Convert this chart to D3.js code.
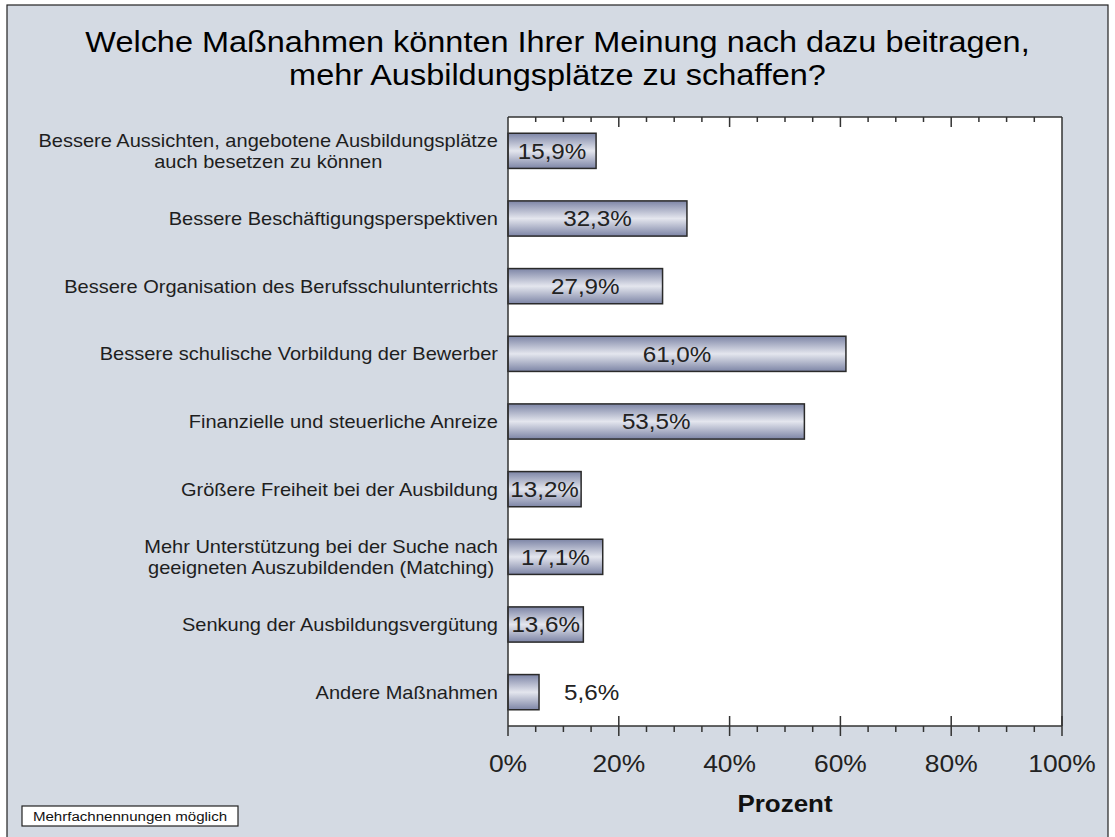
<!DOCTYPE html>
<html>
<head>
<meta charset="utf-8">
<script src="https://cdnjs.cloudflare.com/ajax/libs/d3/7.8.5/d3.min.js"></script>
<style>
  html, body { margin: 0; padding: 0; background: #ffffff; }
  svg { display: block; }
  text { font-family: "Liberation Sans", Arial, sans-serif; }
</style>
</head>
<body>
<svg id="chart" width="1115" height="837"></svg>
<script>
// ---- Data ----
const titleLines = [
  "Welche Maßnahmen könnten Ihrer Meinung nach dazu beitragen,",
  "mehr Ausbildungsplätze zu schaffen?"
];
const categories = [
  "Bessere Aussichten, angebotene Ausbildungsplätze\nauch besetzen zu können",
  "Bessere Beschäftigungsperspektiven",
  "Bessere Organisation des Berufsschulunterrichts",
  "Bessere schulische Vorbildung der Bewerber",
  "Finanzielle und steuerliche Anreize",
  "Größere Freiheit bei der Ausbildung",
  "Mehr Unterstützung bei der Suche nach\ngeeigneten Auszubildenden (Matching)",
  "Senkung der Ausbildungsvergütung",
  "Andere Maßnahmen"
];
const values = [15.9, 32.3, 27.9, 61.0, 53.5, 13.2, 17.1, 13.6, 5.6];
const majorTicks = [0, 20, 40, 60, 80, 100];
const minorTicks = [5, 10, 15, 25, 30, 35, 45, 50, 55, 65, 70, 75, 85, 90, 95];
const axisTitle = "Prozent";
const footnote = "Mehrfachnennungen möglich";

// ---- Layout ----
const SX = 1.1; // horizontal glyph stretch of the original rendering
const plot = { left: 508, right: 1062, top: 117, bottom: 726 };
const bg = "#d4dae3";
const ink = "#1e1e1e";

const svg = d3.select("#chart");
const fmt = v => v.toFixed(1).replace(".", ",") + "%";

// background and outer frame
svg.append("rect").attr("x", 0).attr("y", 0).attr("width", 1115).attr("height", 837).attr("fill", "#ffffff");
svg.append("rect").attr("x", 7).attr("y", 5).attr("width", 1101).attr("height", 840)
  .attr("fill", bg).attr("stroke", "#222").attr("stroke-width", 1.2);

// helper: stretched text
function stext(g, x, y, str, size, anchor, weight, color) {
  const t = g.append("text")
    .attr("transform", `translate(${x},${y}) scale(${SX},1)`)
    .attr("font-size", size)
    .attr("text-anchor", anchor || "start")
    .attr("font-weight", weight || "normal")
    .attr("fill", color || ink)
    .text(str);
  return t;
}

// title
titleLines.forEach((l, i) => stext(svg, 557.5, 52 + i * 33, l, 29.5, "middle", "normal", "#000"));

// scales
const x = d3.scaleLinear().domain([0, 100]).range([plot.left, plot.right]);
const y = d3.scaleBand().domain(categories).range([plot.top, plot.bottom])
  .paddingInner(0.48).paddingOuter(0.24);

// plot background
svg.append("rect").attr("x", plot.left).attr("y", plot.top)
  .attr("width", plot.right - plot.left).attr("height", plot.bottom - plot.top)
  .attr("fill", "#ffffff");

// gradient
const defs = svg.append("defs");
const grad = defs.append("linearGradient").attr("id", "barGrad")
  .attr("x1", 0).attr("y1", 0).attr("x2", 0).attr("y2", 1);
grad.append("stop").attr("offset", "0%").attr("stop-color", "#7d85a6");
grad.append("stop").attr("offset", "50%").attr("stop-color", "#e4e6ee");
grad.append("stop").attr("offset", "100%").attr("stop-color", "#7d85a6");

// bars
const data = categories.map((c, i) => ({ c, v: values[i] }));
svg.append("g").selectAll("rect").data(data).join("rect")
  .attr("x", x(0))
  .attr("y", d => y(d.c))
  .attr("width", d => x(d.v) - x(0))
  .attr("height", y.bandwidth())
  .attr("fill", "url(#barGrad)")
  .attr("stroke", "#2a2a2a").attr("stroke-width", 1.5);

// value labels
const vg = svg.append("g");
data.forEach(d => {
  const cy = y(d.c) + y.bandwidth() / 2 + 7.8;
  const bw = x(d.v) - x(0);
  const t = stext(vg, 0, 0, fmt(d.v), 22, "middle", "normal", "#222");
  const w = t.node().getComputedTextLength() * SX;
  if (w <= bw) {
    t.attr("transform", `translate(${x(0) + bw / 2},${cy}) scale(${SX},1)`);
  } else {
    t.attr("text-anchor", "start")
     .attr("transform", `translate(${x(d.v) + 25},${cy}) scale(${SX},1)`);
  }
});

// category labels
const cg = svg.append("g");
data.forEach(d => {
  const lines = d.c.split("\n");
  const cy = y(d.c) + y.bandwidth() / 2;
  const lh = 21;
  const size = 18.2;
  if (lines.length === 1) {
    stext(cg, 498, cy + 6.5, lines[0], size, "end", "normal", "#1e1e1e");
  } else {
    const ts = lines.map((l, i) => stext(cg, 0, 0, l, size, "middle", "normal", "#1e1e1e"));
    const maxW = d3.max(ts, t => t.node().getComputedTextLength() * SX);
    const cx = 498 - maxW / 2;
    ts.forEach((t, i) => {
      const yy = cy + 6.5 + (i - (lines.length - 1) / 2) * lh;
      t.attr("transform", `translate(${cx},${yy}) scale(${SX},1)`);
    });
  }
});

// axes / frame lines
const ax = svg.append("g").attr("stroke", "#333").attr("stroke-width", 1.5).attr("fill", "none");
ax.append("line").attr("x1", plot.left).attr("x2", plot.right).attr("y1", plot.top).attr("y2", plot.top);
ax.append("line").attr("x1", plot.left).attr("x2", plot.right).attr("y1", plot.bottom).attr("y2", plot.bottom);
ax.append("line").attr("x1", plot.left).attr("x2", plot.left).attr("y1", plot.top).attr("y2", plot.bottom + 10);
ax.append("line").attr("x1", plot.right).attr("x2", plot.right).attr("y1", plot.top).attr("y2", plot.bottom);

// top ticks (inside)
ax.selectAll("line.tmin").data(minorTicks).join("line").attr("class", "tmin")
  .attr("x1", d => x(d)).attr("x2", d => x(d)).attr("y1", plot.top).attr("y2", plot.top + 5);
ax.selectAll("line.tmaj").data(majorTicks.slice(1, -1)).join("line").attr("class", "tmaj")
  .attr("x1", d => x(d)).attr("x2", d => x(d)).attr("y1", plot.top).attr("y2", plot.top + 10);
// bottom ticks
ax.selectAll("line.bmin").data(minorTicks).join("line").attr("class", "bmin")
  .attr("x1", d => x(d)).attr("x2", d => x(d)).attr("y1", plot.bottom).attr("y2", plot.bottom + 6);
ax.selectAll("line.bmaj").data(majorTicks.slice(1)).join("line").attr("class", "bmaj")
  .attr("x1", d => x(d)).attr("x2", d => x(d)).attr("y1", plot.bottom - 10).attr("y2", plot.bottom + 10);

// tick labels
const tg = svg.append("g");
majorTicks.forEach(t => stext(tg, x(t), 772, t + "%", 24, "middle", "normal", "#222"));

// axis title
stext(svg, (plot.left + plot.right) / 2, 812, axisTitle, 23.6, "middle", "bold", "#111");

// footnote box
svg.append("rect").attr("x", 22).attr("y", 806).attr("width", 216).attr("height", 20)
  .attr("fill", "#ffffff").attr("stroke", "#222").attr("stroke-width", 1.2);
stext(svg, 130, 821, footnote, 13.7, "middle", "normal", "#111");
</script>
</body>
</html>
